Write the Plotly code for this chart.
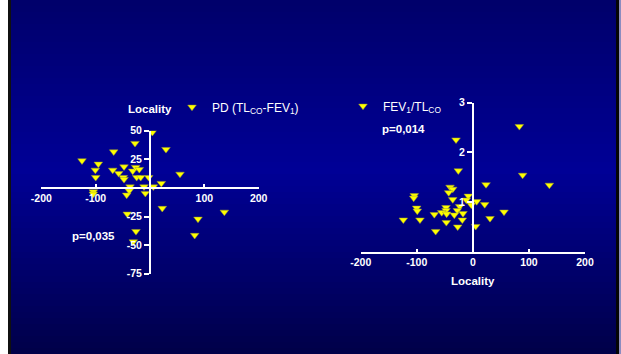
import plotly.graph_objects as go

# ---------------- data ----------------
pd_locality = [4.3, -27.6, 29.4, -66.8, -125.1, -95.1, -100.6, -68.6, -47.8, -57.6,
               -49.1, -47.8, -99.9, -31.8, -26.3, -19.7, -24.5, -17.1, -2.4, 55.2,
               20.8, 6.1, -11.0, -36.8, -38.1, -104.3, -104.3, -42.9, -8.6, 22.6,
               -41.8, 136.8, 88.3, -25.8, 82.2, -30.7]
pd_values = [48.7, 39.1, 33.8, 31.7, 23.9, 21.0, 15.7, 15.7, 18.6, 12.8,
             9.3, 7.6, 9.3, 14.9, 18.1, 16.3, 9.3, 9.3, 9.3, 12.2,
             4.1, 1.1, 1.1, 1.1, -2.4, -3.2, -5.2, -6.1, -4.6, -17.7,
             -22.7, -21.0, -27.1, -37.9, -41.3, -46.9]

ratio_locality = [82.9, -30.0, -25.9, 88.8, 23.5, 136.4, -40.7, -35.9, -43.1, -104.4,
                  -105.5, -8.1, -11.7, -35.9, 6.8, -2.7, 21.1, -100.2, -99.1, -47.9,
                  -23.5, -27.7, -47.9, -55.6, -46.7, -68.7, -33.1, -17.6, 55.6, -124.0,
                  -94.3, 30.6, -18.8, -47.3, -27.0, 5.1, -66.3]
ratio_values = [2.52, 2.25, 1.63, 1.54, 1.35, 1.34, 1.30, 1.26, 1.19, 1.13,
                1.08, 1.12, 1.04, 1.05, 1.01, 0.94, 0.95, 0.88, 0.82, 0.89,
                0.91, 0.83, 0.83, 0.79, 0.76, 0.75, 0.74, 0.77, 0.80, 0.64,
                0.64, 0.67, 0.64, 0.59, 0.50, 0.51, 0.41]

left_xticks = [-200, -100, 100, 200]
left_yticks = [-75, -50, -25, 25, 50]
right_xticks = [-200, -100, 0, 100, 200]
right_yticks = [1, 2, 3]

name_pd = "PD (TL<sub>CO</sub>-FEV<sub>1</sub>)"
name_ratio = "FEV<sub>1</sub>/TL<sub>CO</sub>"
p_left = "p=0,035"
p_right = "p=0,014"
axis_title = "Locality"

# ---------------- layout helpers ----------------
W, H = 621, 354
FONT = "Liberation Sans, Arial, sans-serif"


def fx(px):
    return px / W


def fy(py):
    return 1 - py / H


marker = dict(symbol="triangle-down", size=7.5, color="#ffff00",
              line=dict(color="#9a9a30", width=0.5))

fig = go.Figure()
fig.add_trace(go.Scatter(x=pd_locality, y=pd_values, mode="markers", marker=marker,
                         name=name_pd, xaxis="x", yaxis="y", legend="legend",
                         hoverinfo="skip"))
fig.add_trace(go.Scatter(x=ratio_locality, y=ratio_values, mode="markers", marker=marker,
                         name=name_ratio, xaxis="x2", yaxis="y2", legend="legend2",
                         hoverinfo="skip"))

tickfont = dict(family=FONT, size=10.5, color="white", weight="bold")
common = dict(showgrid=False, zeroline=False, showline=True, linecolor="white",
              linewidth=2, tickcolor="white", tickwidth=2, tickfont=tickfont,
              tickmode="array", fixedrange=True, automargin=False)

# background gradient bands (top dark, middle bright, bottom dark)
stops = [(0, (0, 0, 106)), (170, (0, 0, 150)), (354, (0, 0, 72))]


def colour_at(py):
    for (p0, c0), (p1, c1) in zip(stops[:-1], stops[1:]):
        if p0 <= py <= p1:
            t = (py - p0) / (p1 - p0)
            return "rgb(%d,%d,%d)" % tuple(round(a + (b - a) * t) for a, b in zip(c0, c1))
    return "rgb(%d,%d,%d)" % stops[-1][1]


shapes = []
n = 59
band = H / n
for i in range(n):
    y0 = band * i
    shapes.append(dict(type="rect", xref="paper", yref="paper", layer="below",
                       x0=fx(11), x1=fx(616), y0=max(fy(y0 + band + 3), 0), y1=fy(y0),
                       fillcolor=colour_at(y0 + band / 2), line=dict(width=0)))
shapes.append(dict(type="rect", xref="paper", yref="paper", layer="below",
                   x0=fx(8), x1=fx(11), y0=0, y1=1, fillcolor="#101010", line=dict(width=0)))
shapes.append(dict(type="rect", xref="paper", yref="paper", layer="below",
                   x0=fx(616), x1=fx(619), y0=0, y1=1, fillcolor="#050505", line=dict(width=0)))
shapes.append(dict(type="rect", xref="paper", yref="paper", layer="below",
                   x0=fx(619), x1=1, y0=0, y1=1, fillcolor="#8c8cc0", line=dict(width=0)))

ann_font = dict(family=FONT, size=11.5, color="white", weight="bold")


def ann(text, px, py):
    return dict(text=text, x=fx(px), y=fy(py), xref="paper", yref="paper",
                xanchor="center", yanchor="middle", showarrow=False, font=ann_font)


annotations = [
    ann(axis_title, 149.5, 109),
    ann(p_left, 93.3, 235.7),
    ann(p_right, 403.7, 129.3),
    ann(axis_title, 472.5, 280.7),
]

legend_common = dict(bgcolor="rgba(0,0,0,0)", borderwidth=0, xanchor="left",
                     yanchor="middle", font=dict(family=FONT, size=12, color="white"))

fig.update_layout(
    width=W, height=H, autosize=False,
    margin=dict(l=0, r=0, t=0, b=0, pad=0, autoexpand=False),
    paper_bgcolor="white", plot_bgcolor="rgba(0,0,0,0)",
    showlegend=True, hovermode=False,
    legend=dict(x=fx(172), y=fy(107), **legend_common),
    legend2=dict(x=fx(343), y=fy(106), **legend_common),
    xaxis=dict(domain=[fx(41.3), fx(258.7)], range=[-200, 200], anchor="free",
               position=fy(188), ticks="inside", ticklen=3,
               tickvals=left_xticks, ticktext=[str(v) for v in left_xticks], **common),
    yaxis=dict(domain=[fy(273.8), fy(130.8)], range=[-75, 50], anchor="free",
               position=fx(150), ticks="outside", ticklen=5,
               tickvals=left_yticks, ticktext=[str(v) for v in left_yticks], **common),
    xaxis2=dict(domain=[fx(360.7), fx(585)], range=[-200, 200], anchor="y2",
                ticks="inside", ticklen=3,
                tickvals=right_xticks, ticktext=[str(v) for v in right_xticks], **common),
    yaxis2=dict(domain=[fy(251.7), fy(102.5)], range=[0, 3], anchor="free",
                position=fx(472.85), ticks="outside", ticklen=5,
                tickvals=right_yticks, ticktext=[str(v) for v in right_yticks], **common),
    shapes=shapes,
    annotations=annotations,
)

# remove the browser's default page margin so the figure fills the window
fig.write_html("out.html", config={"displayModeBar": False, "staticPlot": False},
               post_script="document.body.style.margin='0';")
